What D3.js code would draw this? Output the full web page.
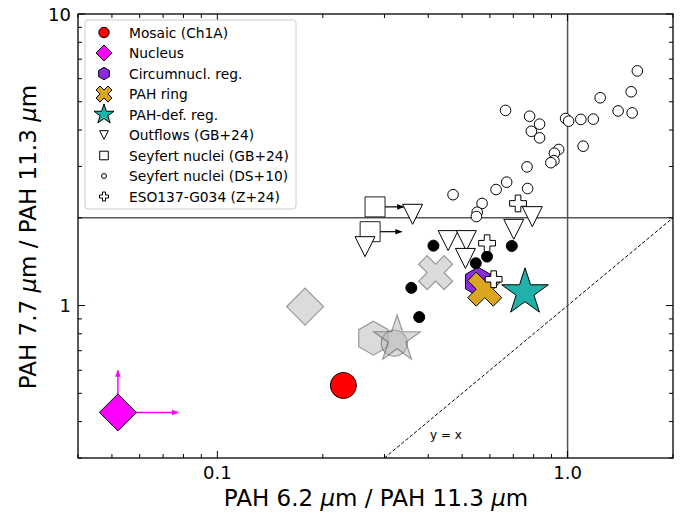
<!DOCTYPE html>
<html>
<head>
<meta charset="utf-8">
<script src="https://cdn.jsdelivr.net/npm/d3@7"></script>
<style>
  body { margin: 0; background: #fff; }
  text { font-family: "DejaVu Sans", sans-serif; }
</style>
</head>
<body>
<svg id="chart" width="691" height="515"></svg>
<script>
// ---- data ----
var mosaicX = [0.229], mosaicY = [0.532];
var nucleusX = [0.052], nucleusY = [0.430];
var nucleusArrowX = [0.0773], nucleusArrowY = [0.599];
var circumX = [0.555], circumY = [1.208];
var ringX = [0.580], ringY = [1.138];
var pahDefX = [0.756], pahDefY = [1.110];

// gray (other aperture) versions
var grayDiamondX = [0.178], grayDiamondY = [0.992];
var grayHexX = [0.279], grayHexY = [0.773];
var grayCircleX = [0.320], grayCircleY = [0.743];
var grayStarX = [0.326], grayStarY = [0.766];
var grayCrossX = [0.420], grayCrossY = [1.297];

var dotX = [0.414, 0.693, 0.589, 0.547, 0.358, 0.377];
var dotY = [1.605, 1.601, 1.472, 1.397, 1.150, 0.913];

var outflowX = [0.361, 0.264, 0.456, 0.514, 0.511, 0.702, 0.793];
var outflowY = [2.056, 1.592, 1.670, 1.670, 1.451, 1.826, 2.018];

var seyfertGBX = [0.282, 0.273];
var seyfertGBY = [2.18, 1.792];
var seyfertGBLimX = [0.340, 0.336];

var seyfertDSX = [0.665, 0.779, 0.832, 0.788, 0.832, 0.987, 1.007, 1.091, 1.184, 1.239, 1.394, 1.529, 1.519, 1.582,
                  1.108, 0.943, 0.917, 0.914, 0.896, 0.766, 0.769, 0.670, 0.625, 0.471, 0.570, 0.552, 0.549];
var seyfertDSY = [4.67, 4.46, 4.19, 3.96, 3.76, 4.38, 4.29, 4.35, 4.36, 5.16, 4.65, 4.58, 5.41, 6.38,
                  3.52, 3.43, 3.33, 3.14, 3.09, 2.99, 2.52, 2.65, 2.50, 2.40, 2.24, 2.09, 2.02];

var esoX = [0.722, 0.589, 0.615];
var esoY = [2.24, 1.636, 1.231];

var xTicks = [0.1, 1.0], xTickLabels = ["0.1", "1.0"];
var yTicks = [1, 10], yTickLabels = ["1", "10"];

var legendLabels = ["Mosaic (Ch1A)", "Nucleus", "Circumnucl. reg.", "PAH ring", "PAH-def. reg.",
                    "Outflows (GB+24)", "Seyfert nuclei (GB+24)", "Seyfert nuclei (DS+10)", "ESO137-G034 (Z+24)"];

// ---- marker shapes ----
function circlePath(r) {
    return "M" + r + ",0A" + r + "," + r + " 0 1,1 " + (-r) + ",0A" + r + "," + r + " 0 1,1 " + r + ",0Z";
}
function diamondPath(s) {
    return "M0," + (-s) + "L" + s + ",0L0," + s + "L" + (-s) + ",0Z";
}
function polyPath(pts) {
    return "M" + pts.map(function (p) { return p[0].toFixed(2) + "," + p[1].toFixed(2); }).join("L") + "Z";
}
function hexPath(R) {
    var pts = [];
    for (var k = 0; k < 6; k++) {
        var a = (-90 + 60 * k) * Math.PI / 180;
        pts.push([R * Math.cos(a), R * Math.sin(a)]);
    }
    return polyPath(pts);
}
function starPath(R) {
    var pts = [], r = R * 0.381966;
    for (var k = 0; k < 10; k++) {
        var a = (-90 + 36 * k) * Math.PI / 180;
        var rr = k % 2 === 0 ? R : r;
        pts.push([rr * Math.cos(a), rr * Math.sin(a)]);
    }
    return polyPath(pts);
}
function xPath(u) {
    var v = [[-1, -2], [0, -1], [1, -2], [2, -1], [1, 0], [2, 1], [1, 2], [0, 1], [-1, 2], [-2, 1], [-1, 0], [-2, -1]];
    return polyPath(v.map(function (p) { return [p[0] * u, p[1] * u]; }));
}
function plusPath(u) {
    var v = [[-1, -3], [1, -3], [1, -1], [3, -1], [3, 1], [1, 1], [1, 3], [-1, 3], [-1, 1], [-3, 1], [-3, -1], [-1, -1]];
    return polyPath(v.map(function (p) { return [p[0] * u, p[1] * u]; }));
}
function triDownPath(h) {
    return "M0," + h + "L" + (-h) + "," + (-h) + "L" + h + "," + (-h) + "Z";
}
function squarePath(h) {
    return "M" + (-h) + "," + (-h) + "H" + h + "V" + h + "H" + (-h) + "Z";
}

// ---- layout ----
var svg = d3.select("#chart");
var pLeft = 78, pRight = 673, pTop = 14, pBottom = 458;

var x = d3.scaleLog().domain([0.04, 2.0]).range([pLeft, pRight]);
var y = d3.scaleLog().domain([0.3, 10]).range([pBottom, pTop]);

var defs = svg.append("defs");
defs.append("clipPath").attr("id", "plotclip")
    .append("rect").attr("x", pLeft).attr("y", pTop).attr("width", pRight - pLeft).attr("height", pBottom - pTop);

function addArrow(id, color) {
    defs.append("marker")
        .attr("id", id)
        .attr("viewBox", "0 -5 10 10")
        .attr("refX", 9)
        .attr("refY", 0)
        .attr("markerWidth", 7)
        .attr("markerHeight", 7)
        .attr("markerUnits", "userSpaceOnUse")
        .attr("orient", "auto")
        .append("path")
        .attr("d", "M0,-4L10,0L0,4Z")
        .style("fill", color);
}
addArrow("arrMag", "magenta");
addArrow("arrBlk", "black");

var plot = svg.append("g").attr("clip-path", "url(#plotclip)");

// reference lines
plot.append("line")
    .attr("x1", x(0.3)).attr("y1", y(0.3)).attr("x2", x(2.0)).attr("y2", y(2.0))
    .style("stroke", "black").style("stroke-width", 1).style("stroke-dasharray", "3.5,2");
plot.append("line")
    .attr("x1", x(1.0)).attr("x2", x(1.0)).attr("y1", pTop).attr("y2", pBottom)
    .style("stroke", "#555").style("stroke-width", 1.5);
plot.append("line")
    .attr("x1", pLeft).attr("x2", pRight).attr("y1", y(2.0)).attr("y2", y(2.0))
    .style("stroke", "#555").style("stroke-width", 1.5);

svg.append("text")
    .attr("x", 446).attr("y", 439)
    .attr("text-anchor", "middle")
    .style("font-size", "12px")
    .text("y = x");

function drawMarkers(xs, ys, path, fill, stroke, opts) {
    opts = opts || {};
    plot.append("g").selectAll("path")
        .data(xs.map(function (v, i) { return [v, ys[i]]; }))
        .enter().append("path")
        .attr("d", path)
        .attr("transform", function (d) { return "translate(" + x(d[0]) + "," + y(d[1]) + ")"; })
        .style("fill", fill)
        .style("stroke", stroke)
        .style("stroke-width", opts.sw || 1)
        .style("fill-opacity", opts.alpha || 1)
        .style("stroke-opacity", opts.alpha || 1);
}

// gray markers
var grayOpts = {alpha: 0.5, sw: 1.2};
drawMarkers(grayDiamondX, grayDiamondY, diamondPath(18.5), "#b8b8b8", "#444", grayOpts);
drawMarkers(grayHexX, grayHexY, hexPath(17), "#b8b8b8", "#444", grayOpts);
drawMarkers(grayCircleX, grayCircleY, circlePath(13), "#b8b8b8", "#444", grayOpts);
drawMarkers(grayStarX, grayStarY, starPath(24.5), "#b8b8b8", "#444", grayOpts);
drawMarkers(grayCrossX, grayCrossY, xPath(8.5), "#b8b8b8", "#444", grayOpts);

// nucleus arrows (limits)
plot.append("line")
    .attr("x1", x(nucleusX[0])).attr("y1", y(nucleusY[0]))
    .attr("x2", x(nucleusX[0])).attr("y2", y(nucleusArrowY[0]))
    .style("stroke", "magenta").style("stroke-width", 1.5)
    .attr("marker-end", "url(#arrMag)");
plot.append("line")
    .attr("x1", x(nucleusX[0])).attr("y1", y(nucleusY[0]))
    .attr("x2", x(nucleusArrowX[0])).attr("y2", y(nucleusY[0]))
    .style("stroke", "magenta").style("stroke-width", 1.5)
    .attr("marker-end", "url(#arrMag)");

// main measurements
drawMarkers(mosaicX, mosaicY, circlePath(13), "red", "black");
drawMarkers(nucleusX, nucleusY, diamondPath(18.5), "magenta", "black");
drawMarkers(circumX, circumY, hexPath(14.5), "blueviolet", "black");
drawMarkers(ringX, ringY, xPath(8.5), "goldenrod", "black");
drawMarkers(pahDefX, pahDefY, starPath(24.5), "lightseagreen", "black");

drawMarkers(dotX, dotY, circlePath(5.5), "black", "black");
drawMarkers(seyfertDSX, seyfertDSY, circlePath(5.3), "white", "black");

// seyfert (GB+24) lower limits in x
plot.append("g").selectAll("line")
    .data(seyfertGBX.map(function (v, i) { return [v, seyfertGBY[i], seyfertGBLimX[i]]; }))
    .enter().append("line")
    .attr("x1", function (d) { return x(d[0]); })
    .attr("x2", function (d) { return x(d[2]); })
    .attr("y1", function (d) { return y(d[1]); })
    .attr("y2", function (d) { return y(d[1]); })
    .style("stroke", "black").style("stroke-width", 1.2)
    .attr("marker-end", "url(#arrBlk)");
drawMarkers(seyfertGBX, seyfertGBY, squarePath(10), "white", "#222");
drawMarkers(outflowX, outflowY, triDownPath(10), "white", "black");
drawMarkers(esoX, esoY, plusPath(2.8), "white", "black");

// ---- axes frame and ticks (inward, all four sides) ----
var minorX = [0.04, 0.05, 0.06, 0.07, 0.08, 0.09, 0.2, 0.3, 0.4, 0.5, 0.6, 0.7, 0.8, 0.9, 2.0];
var minorY = [0.3, 0.4, 0.5, 0.6, 0.7, 0.8, 0.9, 2, 3, 4, 5, 6, 7, 8, 9];
var axes = svg.append("g").style("stroke", "black").style("stroke-width", 1);

function tickSet(vals, len, isX) {
    vals.forEach(function (v) {
        if (isX) {
            axes.append("line").attr("x1", x(v)).attr("x2", x(v)).attr("y1", pBottom).attr("y2", pBottom - len);
            axes.append("line").attr("x1", x(v)).attr("x2", x(v)).attr("y1", pTop).attr("y2", pTop + len);
        } else {
            axes.append("line").attr("y1", y(v)).attr("y2", y(v)).attr("x1", pLeft).attr("x2", pLeft + len);
            axes.append("line").attr("y1", y(v)).attr("y2", y(v)).attr("x1", pRight).attr("x2", pRight - len);
        }
    });
}
tickSet(minorX, 4, true);
tickSet(minorY, 4, false);
tickSet(xTicks, 7, true);
tickSet(yTicks, 7, false);

svg.append("rect")
    .attr("x", pLeft).attr("y", pTop).attr("width", pRight - pLeft).attr("height", pBottom - pTop)
    .style("fill", "none").style("stroke", "black").style("stroke-width", 1.3);

svg.append("g").selectAll("text")
    .data(xTicks)
    .enter().append("text")
    .attr("x", function (d) { return x(d); })
    .attr("y", pBottom + 21)
    .attr("text-anchor", "middle")
    .style("font-size", "18px")
    .text(function (d, i) { return xTickLabels[i]; });

svg.append("g").selectAll("text")
    .data(yTicks)
    .enter().append("text")
    .attr("x", pLeft - 7)
    .attr("y", function (d) { return y(d) + 6.5; })
    .attr("text-anchor", "end")
    .style("font-size", "18px")
    .text(function (d, i) { return yTickLabels[i]; });

// axis labels
var xl = svg.append("text")
    .attr("x", 376).attr("y", 506)
    .attr("text-anchor", "middle")
    .style("font-size", "23px");
xl.append("tspan").text("PAH 6.2 ");
xl.append("tspan").style("font-style", "italic").text("μ");
xl.append("tspan").text("m / PAH 11.3 ");
xl.append("tspan").style("font-style", "italic").text("μ");
xl.append("tspan").text("m");

var yl = svg.append("text")
    .attr("transform", "translate(36,237) rotate(-90)")
    .attr("text-anchor", "middle")
    .style("font-size", "23px");
yl.append("tspan").text("PAH 7.7 ");
yl.append("tspan").style("font-style", "italic").text("μ");
yl.append("tspan").text("m / PAH 11.3 ");
yl.append("tspan").style("font-style", "italic").text("μ");
yl.append("tspan").text("m");

// ---- legend ----
var lg = svg.append("g");
lg.append("rect")
    .attr("x", 85).attr("y", 20).attr("width", 211).attr("height", 189).attr("rx", 3)
    .style("fill", "white").style("fill-opacity", 0.8)
    .style("stroke", "#ccc").style("stroke-width", 1);

var legendShapes = [
    [circlePath(5.2), "red"],
    [diamondPath(8), "magenta"],
    [hexPath(6.2), "blueviolet"],
    [xPath(4), "goldenrod"],
    [starPath(10.5), "lightseagreen"],
    [triDownPath(4.3), "white"],
    [squarePath(4.3), "white"],
    [circlePath(2.5), "white"],
    [plusPath(1.5), "white"]
];
legendLabels.forEach(function (lab, i) {
    var yy = 32.5 + i * 20.5;
    lg.append("path")
        .attr("d", legendShapes[i][0])
        .attr("transform", "translate(104," + yy + ")")
        .style("fill", legendShapes[i][1])
        .style("stroke", "black").style("stroke-width", 1);
    lg.append("text")
        .attr("x", 129).attr("y", yy + 5)
        .style("font-size", "13.8px")
        .text(lab);
});
</script>
</body>
</html>
